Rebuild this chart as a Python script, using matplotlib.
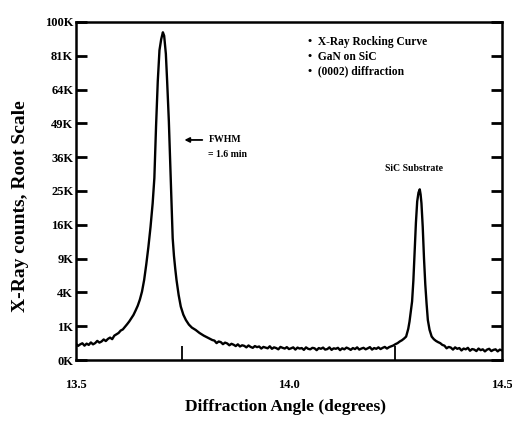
import matplotlib

matplotlib.use("Agg")
import matplotlib.pyplot as plt  # noqa: E402
import numpy as np  # noqa: E402

# rocking curve (angle in degrees, counts)
tail_left_angle = [13.500, 13.505, 13.510, 13.515, 13.520, 13.525, 13.530, 13.535, 13.540, 13.545,
                   13.550, 13.555, 13.560, 13.565, 13.570, 13.575, 13.580, 13.585, 13.590, 13.595,
                   13.600, 13.605, 13.610, 13.615, 13.620, 13.625, 13.630, 13.635, 13.640, 13.645,
                   13.650, 13.655]
tail_left_counts = [230, 175, 215, 245, 180, 235, 200, 270, 215, 250,
                    320, 265, 300, 370, 315, 390, 440, 380, 520, 580,
                    640, 760, 820, 960, 1120, 1300, 1530, 1780, 2150, 2580,
                    3200, 4100]

gan_angle = [13.660, 13.665, 13.670, 13.675, 13.680, 13.684, 13.688, 13.692, 13.696, 13.700,
             13.704, 13.707, 13.711, 13.714, 13.718, 13.721, 13.724, 13.727, 13.730, 13.733,
             13.736, 13.741, 13.746, 13.752, 13.758, 13.765, 13.772, 13.781, 13.790, 13.800,
             13.810, 13.820]
gan_counts = [5600, 8000, 11200, 15500, 21500, 29000, 48000, 68000, 84000, 90000,
              94000, 92000, 82000, 68000, 50000, 35000, 22000, 13000, 9500, 7300,
              5600, 3700, 2500, 1800, 1400, 1100, 920, 790, 640, 520,
              430, 350]

mid_angle = [13.825, 13.830, 13.835, 13.840, 13.845, 13.850, 13.855, 13.860, 13.865, 13.870,
             13.875, 13.880, 13.885, 13.890, 13.895, 13.900, 13.905, 13.910, 13.915, 13.920,
             13.925, 13.930, 13.935, 13.940, 13.945, 13.950, 13.955, 13.960, 13.965, 13.970,
             13.975, 13.980, 13.985, 13.990, 13.995, 14.000, 14.005, 14.010, 14.015, 14.020,
             14.025, 14.030, 14.035, 14.040, 14.045, 14.050, 14.055, 14.060, 14.065, 14.070,
             14.075, 14.080, 14.085, 14.090, 14.095, 14.100, 14.105, 14.110, 14.115, 14.120,
             14.125, 14.130, 14.135, 14.140, 14.145, 14.150, 14.155, 14.160, 14.165, 14.170,
             14.175, 14.180, 14.185, 14.190, 14.195, 14.200, 14.205, 14.210, 14.215, 14.220,
             14.225, 14.230, 14.235, 14.240, 14.245, 14.250]
mid_counts = [330, 250, 300, 280, 220, 265, 240, 190, 230, 205,
              170, 215, 160, 190, 175, 140, 185, 150, 130, 170,
              145, 160, 115, 150, 135, 120, 165, 110, 140, 125,
              100, 150, 130, 115, 145, 105, 120, 140, 95, 135,
              115, 125, 90, 140, 110, 100, 130, 120, 85, 125,
              110, 135, 95, 105, 140, 90, 120, 110, 130, 85,
              120, 100, 135, 115, 90, 125, 105, 140, 95, 115,
              130, 100, 120, 145, 95, 125, 110, 140, 105, 130,
              150, 115, 145, 165, 185, 220]

sic_angle = [14.255, 14.260, 14.265, 14.270, 14.275, 14.280, 14.283, 14.286, 14.289, 14.292,
             14.295, 14.298, 14.301, 14.304, 14.307, 14.309, 14.311, 14.314, 14.317, 14.320,
             14.323, 14.326, 14.330, 14.335, 14.340, 14.345, 14.350, 14.355, 14.360]
sic_counts = [250, 300, 340, 400, 480, 850, 1300, 2100, 3000, 5500,
              10500, 16500, 22000, 24500, 25500, 24000, 21500, 15500, 9000, 5000,
              2800, 1400, 800, 480, 380, 320, 280, 250, 200]

tail_right_angle = [14.365, 14.370, 14.375, 14.380, 14.385, 14.390, 14.395, 14.400, 14.405, 14.410,
                    14.415, 14.420, 14.425, 14.430, 14.435, 14.440, 14.445, 14.450, 14.455, 14.460,
                    14.465, 14.470, 14.475, 14.480, 14.485, 14.490, 14.495, 14.500]
tail_right_counts = [180, 120, 150, 135, 95, 140, 110, 125, 80, 115,
                     100, 130, 75, 105, 95, 70, 115, 85, 100, 65,
                     95, 110, 70, 90, 100, 65, 95, 80]

y_ticks = [0, 1000, 4000, 9000, 16000, 25000, 36000, 49000, 64000, 81000, 100000]
x_labels = [13.5, 14.0, 14.5]
x_minor = [13.75, 14.25]
notes = ["•  X-Ray Rocking Curve", "•  GaN on SiC", "•  (0002) diffraction"]

plt.rcParams["font.family"] = "Liberation Serif"
plt.rcParams["font.weight"] = "bold"
plt.rcParams["axes.labelweight"] = "bold"

angle = np.concatenate([tail_left_angle, gan_angle, mid_angle, sic_angle, tail_right_angle])
counts = np.concatenate([tail_left_counts, gan_counts, mid_counts, sic_counts, tail_right_counts])

fig = plt.figure(figsize=(5.12, 4.26), dpi=100)
ax = fig.add_axes([0.1484, 0.1549, 0.832, 0.7935])
ax.plot(angle, counts, color="black", lw=1.7)

ax.set_yscale("function", functions=(np.sqrt, np.square))
ax.set_ylim(0, 100000)
ax.set_xlim(13.5, 14.5)
ax.set_yticks(y_ticks)
ax.set_yticklabels([f"{v // 1000}K" for v in y_ticks])
ax.yaxis.set_minor_locator(matplotlib.ticker.NullLocator())
ax.set_xticks(x_labels)
ax.set_xticklabels([f"{v:.1f}" for v in x_labels])
ax.set_xticks(x_minor, minor=True)

ax.tick_params(axis="y", which="major", direction="in", length=8, width=2,
               right=True, pad=2, labelsize=9)
ax.tick_params(axis="x", which="major", length=0, pad=14, labelsize=9)
ax.tick_params(axis="x", which="minor", direction="in", length=10, width=1.3)
for s in ax.spines.values():
    s.set_linewidth(1.8)

ax.set_ylabel("X-Ray counts, Root Scale", fontsize=14)
ax.yaxis.set_label_coords(-0.11, 0.454)
ax.set_xlabel("Diffraction Angle (degrees)", fontsize=12.5)
ax.xaxis.set_label_coords(0.493, -0.115)

for i, t in enumerate(notes):
    ax.text(0.545, 0.94 - i * 0.043, t, transform=ax.transAxes, fontsize=8.3,
            va="center", ha="left")
ax.annotate("", xy=(0.248, 0.651), xytext=(0.303, 0.651), xycoords="axes fraction",
            arrowprops=dict(arrowstyle="-|>", color="black", lw=1.3, mutation_scale=7))
ax.text(0.311, 0.651, "FWHM", transform=ax.transAxes, fontsize=7, va="center")
ax.text(0.311, 0.607, "= 1.6 min", transform=ax.transAxes, fontsize=7, va="center")
ax.text(0.725, 0.568, "SiC Substrate", transform=ax.transAxes, fontsize=7, va="center")

fig.savefig("out.png", dpi=100)
